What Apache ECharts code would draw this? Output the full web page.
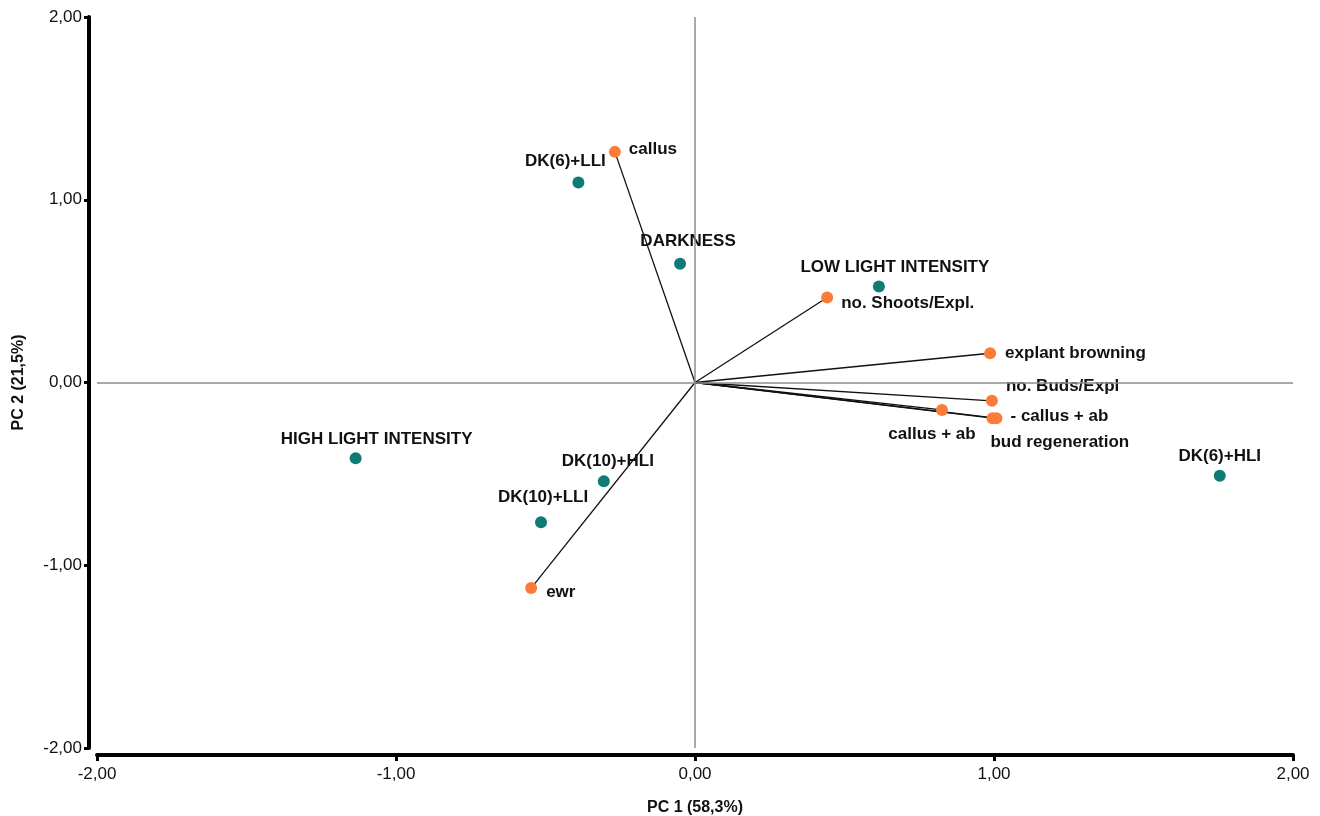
<!DOCTYPE html>
<html>
<head>
<meta charset="utf-8">
<script src="https://cdn.jsdelivr.net/npm/echarts@6/dist/echarts.min.js"></script>
<style>
  html, body { margin: 0; padding: 0; background: #fff; }
  #chart { width: 1320px; height: 816px; }
</style>
</head>
<body>
<div id="chart"></div>
<script>
// treatment scores (teal)
const scoreNames = ["DK(6)+LLI", "DARKNESS", "LOW LIGHT INTENSITY", "HIGH LIGHT INTENSITY", "DK(10)+HLI", "DK(10)+LLI", "DK(6)+HLI"];
const scoreX = [-0.39, -0.05, 0.615, -1.135, -0.305, -0.515, 1.755];
const scoreY = [1.095, 0.65, 0.525, -0.415, -0.54, -0.765, -0.51];

// variable loadings (orange), drawn as vectors from origin
const loadNames = ["callus", "no. Shoots/Expl.", "explant browning", "no. Buds/Expl", "callus + ab", "- callus + ab", "bud regeneration", "ewr"];
const loadX = [-0.268, 0.442, 0.987, 0.993, 0.826, 0.995, 1.008, -0.548];
const loadY = [1.262, 0.465, 0.16, -0.1, -0.15, -0.195, -0.195, -1.125];

// label placement: [position, dx, dy]
const scoreLabelPos = [
  ["top", -13, -2], ["top", 8, -3], ["top", 16, 0], ["top", 21, 0],
  ["top", 4, 0], ["top", 2, -5], ["top", 0, 0]
];
const loadLabelPos = [
  ["right", 2, -3], ["right", 2, 6], ["right", 3, 0], ["right", 2, -14],
  ["bottom", -10, 4], ["right", 6, -2], ["right", -18, 24], ["right", 3, 4]
];

const fmt = v => v.toFixed(2).replace(".", ",");
const labelFont = { fontFamily: "Liberation Sans", fontWeight: "bold", fontSize: 17, color: "#111" };
const nameFont = { fontFamily: "Liberation Sans", fontWeight: "bold", fontSize: 16, color: "#111" };

const chart = echarts.init(document.getElementById("chart"));

const scoreData = scoreNames.map((n, i) => ({
  name: n,
  value: [scoreX[i], scoreY[i]],
  label: {
    show: true, formatter: n, position: scoreLabelPos[i][0],
    offset: [scoreLabelPos[i][1], scoreLabelPos[i][2]], distance: 5, ...labelFont
  }
}));
const loadData = loadNames.map((n, i) => ({
  name: n,
  value: [loadX[i], loadY[i]],
  label: {
    show: true, formatter: n, position: loadLabelPos[i][0],
    offset: [loadLabelPos[i][1], loadLabelPos[i][2]], distance: 6, ...labelFont
  }
}));
const vectors = loadNames.map((n, i) => ({ coords: [[0, 0], [loadX[i], loadY[i]]] }));

const option = {
  animation: false,
  grid: { left: 97, right: 27, top: 17, bottom: 68, containLabel: false, outerBoundsMode: "none" },
  xAxis: {
    type: "value", min: -2, max: 2, interval: 1,
    offset: 7,
    name: "PC 1 (58,3%)", nameLocation: "middle", nameGap: 45,
    nameTextStyle: nameFont,
    axisLine: { onZero: false, lineStyle: { color: "#000", width: 4 } },
    axisTick: { show: true, length: 6, lineStyle: { color: "#000", width: 3 } },
    axisLabel: { formatter: fmt, margin: 11, fontFamily: "Liberation Sans", fontSize: 17, color: "#111" },
    splitLine: { show: false }
  },
  yAxis: {
    type: "value", min: -2, max: 2, interval: 1,
    offset: 8,
    name: "PC 2 (21,5%)", nameLocation: "middle", nameGap: 62, nameRotate: 90,
    nameTextStyle: nameFont,
    axisLine: { onZero: false, lineStyle: { color: "#000", width: 4 } },
    axisTick: { show: true, length: 5, lineStyle: { color: "#000", width: 3 } },
    axisLabel: { formatter: fmt, margin: 7, fontFamily: "Liberation Sans", fontSize: 17, color: "#111" },
    splitLine: { show: false }
  },
  series: [
    {
      type: "lines",
      coordinateSystem: "cartesian2d",
      data: vectors,
      symbol: "none",
      lineStyle: { color: "#111", width: 1.3, opacity: 1 },
      silent: true,
      z: 2,
      markLine: {
        silent: true,
        symbol: "none",
        label: { show: false },
        lineStyle: { color: "#8c8c8c", width: 1.5, type: "solid" },
        data: [{ xAxis: 0 }, { yAxis: 0 }]
      }
    },
    {
      name: "scores",
      type: "scatter",
      data: scoreData,
      symbol: "circle",
      symbolSize: 12,
      itemStyle: { color: "#0f7b76", opacity: 1 },
      z: 3
    },
    {
      name: "loadings",
      type: "scatter",
      data: loadData,
      symbol: "circle",
      symbolSize: 12,
      itemStyle: { color: "#fb7b38", opacity: 1 },
      z: 4
    }
  ]
};
chart.setOption(option);
</script>
</body>
</html>
